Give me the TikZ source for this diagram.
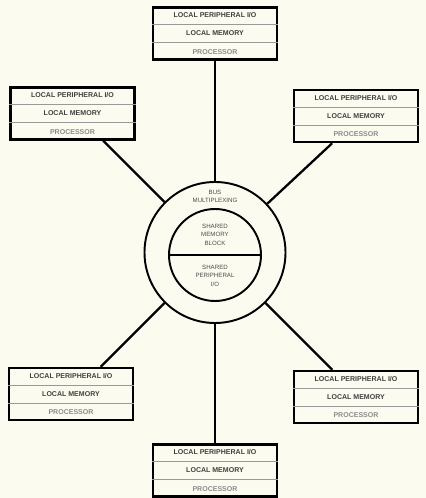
\documentclass[tikz,border=0pt]{standalone}
\usepackage{fontspec}
\setsansfont{Liberation Sans}
\usetikzlibrary{calc}

\definecolor{paper}{RGB}{251,251,240}
\newcommand{\boxfont}{\sffamily\bfseries\fontsize{4.0}{4.5}\selectfont}
\newcommand{\ringfont}{\sffamily\fontsize{3.5}{4.8}\selectfont}

\tikzset{
    pebox/.style={draw=black, line width=1.4pt, fill=paper, minimum width=2.48cm,
        minimum height=1.04cm, inner sep=0pt},
    rowline/.style={black!40, line width=0.35pt},
    rowtext/.style={font=\boxfont, text=black!75, inner sep=0pt},
    ring/.style={draw=black, circle, line width=1.1pt, inner sep=0pt},
    ringtext/.style={font=\ringfont, text=black!70, align=center, inner sep=0pt},
    link/.style={line width=1.3pt, black}
}

\begin{document}
\begin{tikzpicture}
    % Paper and frame of the page
    \fill[paper] (0,0) rectangle (8.52,9.96);
    \useasboundingbox (0,0) rectangle (8.52,9.96);

    % The central bus with the shared block
    \node[ring, minimum size=2.82cm] (bus) at (4.30,4.91) {};
    \node[ring, minimum size=1.84cm] (shared) at (4.30,4.86) {};
    \draw[line width=1.1pt] (shared.west) -- (shared.east);
    \node[ringtext] (bustext) at (4.30,6.03) {BUS\\MULTIPLEXING};
    \node[ringtext] (memtext) at (4.30,5.27) {SHARED\\MEMORY\\BLOCK};
    \node[ringtext] (iotext) at (4.30,4.45) {SHARED\\PERIPHERAL\\I/O};

    % The six processing elements
    \foreach \n/\x/\y in {ptop/4.30/9.29, pul/1.45/7.69, pur/7.12/7.64,
        pll/1.42/2.08, plr/7.12/2.02, pbot/4.30/0.55}
        {
            \node[pebox] (\n) at (\x,\y) {};
            \draw[rowline] ($(\n.north west)!1/3!(\n.south west)$) -- ($(\n.north east)!1/3!(\n.south east)$);
            \draw[rowline] ($(\n.north west)!2/3!(\n.south west)$) -- ($(\n.north east)!2/3!(\n.south east)$);
            \node[rowtext] (\n-io) at ($(\n.north)!1/6!(\n.south)$) {LOCAL PERIPHERAL I/O};
            \node[rowtext] (\n-mem) at (\n.center) {LOCAL MEMORY};
            \node[rowtext, text=black!45] (\n-cpu) at ($(\n.north)!5/6!(\n.south)$) {PROCESSOR};
        }

    % Links from the elements to the bus
    \draw[link] (ptop) -- (bus);
    \draw[link] (pbot) -- (bus);
    \draw[link] (bus.135) -- (intersection of bus.center--bus.135 and pul.south west--pul.south east);
    \draw[link] (bus.43) -- (intersection of bus.center--bus.43 and pur.south west--pur.south east);
    \draw[link] (bus.225) -- (intersection of bus.center--bus.225 and pll.north west--pll.north east);
    \draw[link] (bus.315) -- (intersection of bus.center--bus.315 and plr.north west--plr.north east);

\end{tikzpicture}
\end{document}
